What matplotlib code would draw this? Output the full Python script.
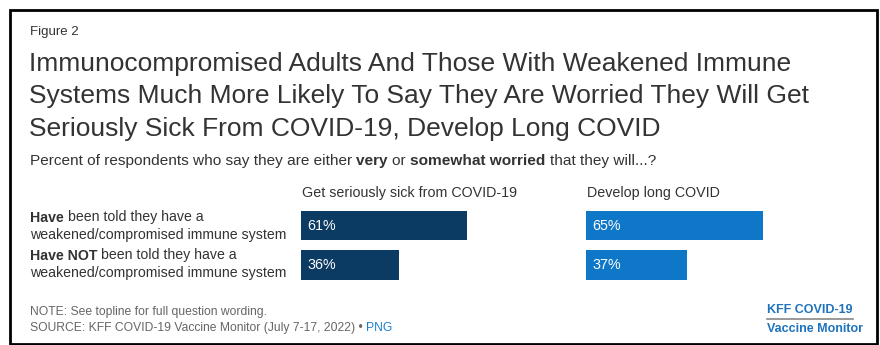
import matplotlib.pyplot as plt
from matplotlib.patches import Rectangle
from matplotlib.lines import Line2D

plt.rcParams['font.family'] = ['Liberation Sans', 'DejaVu Sans']

# Data
groups = ['Have', 'Have NOT']
panels = ['Get seriously sick from COVID-19', 'Develop long COVID']
values = [[61, 36], [65, 37]]
colors = ['#0b3a63', '#0f77c8']

W, H = 880, 345
fig = plt.figure(figsize=(W / 100, H / 100), dpi=100)
r = fig.canvas.get_renderer()


def fx(x):
    return x / W


def fy(y):
    return 1 - y / H


def text_w(s, **kw):
    # advance width incl. trailing spaces, measured against a marker glyph
    a = fig.text(0, 0, s + '|', **kw)
    b = fig.text(0, 0, '|', **kw)
    w = a.get_window_extent(r).width - b.get_window_extent(r).width
    a.remove()
    b.remove()
    return w


def rich(x, y, parts, size, color='#333333'):
    # place bold / normal pieces one after another on a single line
    for s, w in parts:
        kw = dict(fontsize=size, fontweight=w, color=color)
        fig.text(fx(x), fy(y), s, va='center', ha='left', **kw)
        x += text_w(s, **kw)
    return x


fig.text(fx(30), fy(32), 'Figure 2', fontsize=9.5, color='#333333', va='center')
title = ['Immunocompromised Adults And Those With Weakened Immune',
         'Systems Much More Likely To Say They Are Worried They Will Get',
         'Seriously Sick From COVID-19, Develop Long COVID']
for i, line in enumerate(title):
    fig.text(fx(29), fy(64 + i * 32.5), line, fontsize=19.0, color='#333333', va='center')

rich(30, 161, [('Percent of respondents who say they are either ', 'normal'),
               ('very ', 'bold'), ('or ', 'normal'), ('somewhat worried ', 'bold'),
               ('that they will...?', 'normal')], 11.1)

# row labels
row_y = [226, 264]
for g, yc in zip(groups, row_y):
    rich(30, yc - 8.5, [(g + ' ', 'bold'), ('been told they have a', 'normal')], 10.2)
    fig.text(fx(30), fy(yc + 8.5), 'weakened/compromised immune system',
             fontsize=10.2, color='#333333', va='center')

# bar panels
px_per_pct = 2.72
left_px = [301, 586]
top_px, bot_px = 205.75, 284.75
for k in range(2):
    ax = fig.add_axes([fx(left_px[k]), fy(bot_px), 100 * px_per_pct / W, (bot_px - top_px) / H])
    ax.barh(range(len(groups)), values[k], height=0.75, color=colors[k])
    ax.set_xlim(0, 100)
    ax.set_ylim(1.5, -0.5)
    ax.axis('off')
    for i, v in enumerate(values[k]):
        ax.text(2.3, i, f'{v}%', color='white', fontsize=10.3, va='center', ha='left')
    fig.text(fx(left_px[k] + 1), fy(193), panels[k], fontsize=10.3, color='#333333', va='center')

# notes
fig.text(fx(30), fy(312), 'NOTE: See topline for full question wording.',
         fontsize=8.7, color='#666666', va='center')
xe = rich(30, 328, [('SOURCE: KFF COVID-19 Vaccine Monitor (July 7-17, 2022) \u2022 ', 'normal')],
          8.7, color='#666666')
fig.text(fx(xe), fy(328), 'PNG', fontsize=8.7, color='#1a7fd0', va='center')

# logo
fig.text(fx(767), fy(310), 'KFF COVID-19', fontsize=9.0, fontweight='bold',
         color='#1e73be', va='center', ha='left')
fig.text(fx(767), fy(329), 'Vaccine Monitor', fontsize=9.0, fontweight='bold',
         color='#1e73be', va='center', ha='left')
fig.add_artist(Line2D([fx(767), fx(853)], [fy(318.5), fy(318.5)], color='#888888', lw=1.2))

# frame
fig.add_artist(Rectangle((fx(10), fy(344)), (877 - 10) / W, (344 - 10) / H,
                         fill=False, edgecolor='black', lw=2, transform=fig.transFigure))

fig.savefig('out.png', dpi=100)
